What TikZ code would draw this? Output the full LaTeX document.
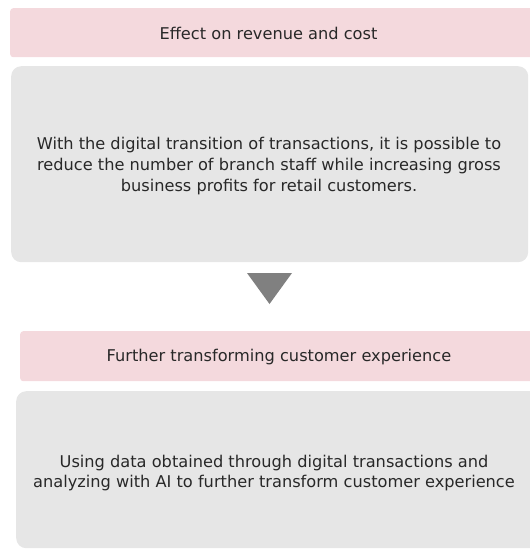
\documentclass[tikz,border=0pt]{standalone}
\usepackage{fontspec}
\setmainfont{DejaVu Sans}
\usepackage{tikz}

\definecolor{headpink}{RGB}{244,217,221}
\definecolor{bodygray}{RGB}{230,230,230}
\definecolor{arrowgray}{RGB}{128,128,128}
\definecolor{textgray}{RGB}{40,40,40}

\tikzset{
  headbox/.style={fill=headpink, rounded corners=3pt, anchor=north west},
  bodybox/.style={fill=bodygray, rounded corners=10pt, anchor=north west},
  steptext/.style={text=textgray, align=center, font=\fontsize{16.2}{20.7}\selectfont}
}

\begin{document}
\begin{tikzpicture}[x=1pt, y=-1pt]
        \useasboundingbox (0, 0) rectangle (530, 550);
        \clip (0, 0) rectangle (530, 550);
        % first step
        \node[headbox, minimum width=526pt, minimum height=49pt] (effect) at (10, 8) {};
        \node[steptext] (effect text) at (268.5, 33) {Effect on revenue and cost};
        \node[bodybox, minimum width=517pt, minimum height=196pt] (staff) at (11, 66) {};
        \node[steptext] (staff text) at (269, 166)
          {With the digital transition of transactions, it is possible to\\
           reduce the number of branch staff while increasing gross\\
           business profits for retail customers.};
        % arrow down
        \fill[arrowgray] (247, 273) -- (292, 273) -- (269.5, 304) -- cycle;
        % second step
        \node[headbox, minimum width=520pt, minimum height=50pt] (further) at (20, 331) {};
        \node[steptext] (further text) at (279, 357) {Further transforming customer experience};
        \node[bodybox, minimum width=524pt, minimum height=157pt] (ai) at (16, 391) {};
        \node[steptext] (ai text) at (274, 473)
          {Using data obtained through digital transactions and\\
           analyzing with AI to further transform customer experience};
      \end{tikzpicture}
\end{document}
